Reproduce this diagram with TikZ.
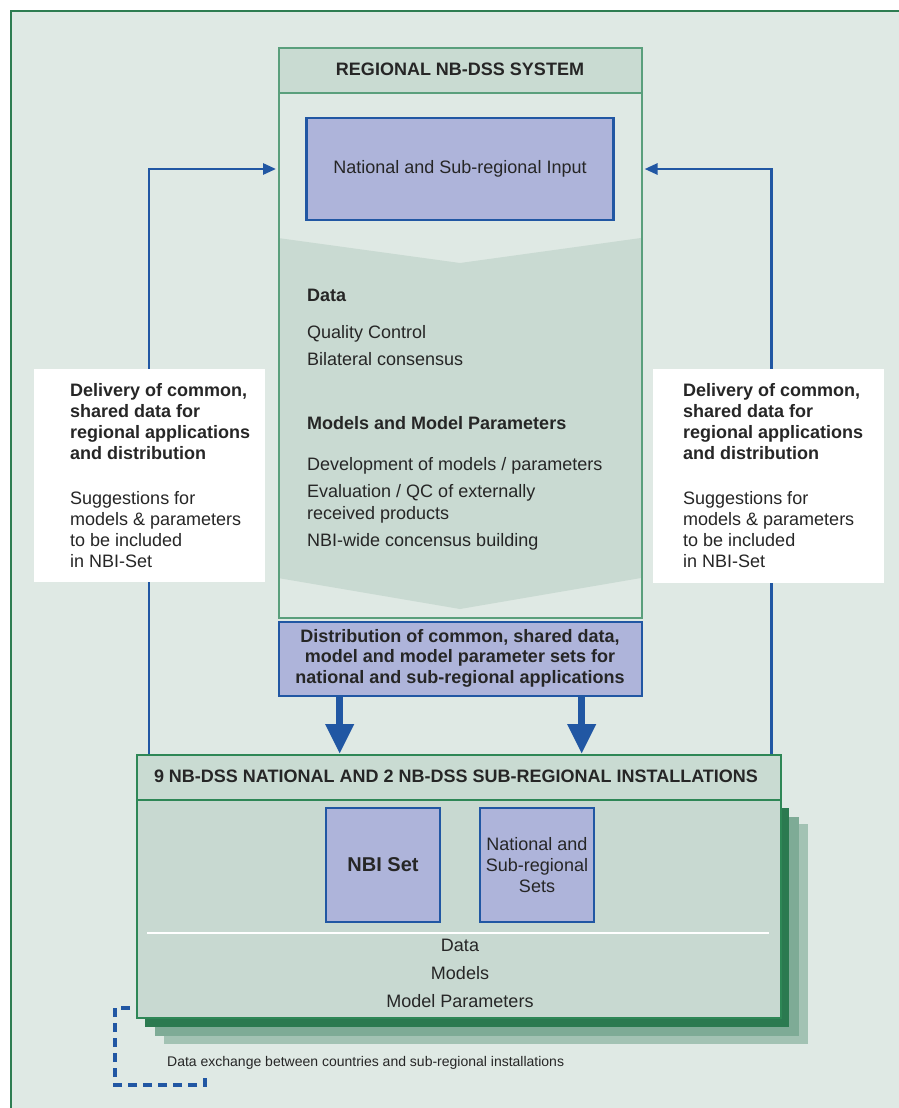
\documentclass[tikz,border=0pt]{standalone}
\usepackage{fontspec}
\setmainfont{Liberation Sans}
\usetikzlibrary{arrows.meta,calc}
\definecolor{bg}{HTML}{DFE9E4}
\definecolor{frameg}{HTML}{2E7D52}
\definecolor{boxg}{HTML}{5A9F7C}
\definecolor{lowg}{HTML}{2E8756}
\definecolor{hdr}{HTML}{C9DBD2}
\definecolor{chev}{HTML}{C9DAD2}
\definecolor{lowf}{HTML}{C8D9D1}
\definecolor{bluef}{HTML}{AEB4DA}
\definecolor{blued}{HTML}{2157A3}
\definecolor{txt}{HTML}{262626}
\definecolor{shA}{HTML}{2B7A50}
\definecolor{shB}{HTML}{7EAB96}
\definecolor{shC}{HTML}{A2C2B3}
\tikzset{
  lbl/.style={inner sep=0pt, text=txt, font=\fontsize{18}{21}\selectfont},
  lblb/.style={lbl, font=\fontsize{18}{21}\selectfont\bfseries},
  bluebox/.style={fill=bluef, draw=blued, line width=2.4pt, inner sep=0pt, text=txt},
  fbline/.style={draw=blued, line width=2.8pt, -{Triangle[length=13pt,width=11pt]}, shorten >=2pt},
  bigarrow/.style={draw=blued, line width=7pt, -{Triangle[length=30pt,width=27pt]}},
  dashline/.style={draw=blued, line width=3.5pt, dash pattern=on 9pt off 6pt},
  whitebox/.style={fill=white, draw=none, inner sep=0pt}
}
\begin{document}
\begin{tikzpicture}[x=1pt,y=-1pt]
\useasboundingbox (0,0) rectangle (899,1108);
% background and frame
\fill[white] (0,0) rectangle (899,1108);
\fill[bg] (11,11) rectangle (899,1108);
\draw[frameg, line width=2.5pt] (11,1108) -- (11,11) -- (899,11);

% ---------- top system ----------
\fill[hdr] (278,47) rectangle (641,93);
\fill[chev] (278,238) -- (460,263) -- (641,238) -- (641,578) -- (460,609) -- (278,578) -- cycle;
\node[draw=boxg, line width=1.6pt, minimum width=363pt, minimum height=570pt, anchor=north west, inner sep=0pt] (sys) at (278,47) {};
\draw[boxg, line width=1.6pt] (sys.north west |- 0,93) -- (sys.north east |- 0,93);
\node[lblb, anchor=base] (systitle) at (460,75) {REGIONAL NB-DSS SYSTEM};
\node[bluebox, minimum width=307pt, minimum height=102pt, font=\fontsize{18}{21}\selectfont] (input) at (460,169) {National and Sub-regional Input};

\node[lblb, anchor=base west] (tdata) at (307,301) {Data};
\node[lbl, anchor=base west] (tqc) at (307,338) {Quality Control};
\node[lbl, anchor=base west] (tbil) at (307,365) {Bilateral consensus};
\node[lblb, anchor=base west] (tmod) at (307,429) {Models and Model Parameters};
\node[lbl, anchor=base west] (tdev) at (307,470) {Development of models / parameters};
\node[lbl, anchor=base west] (teval) at (307,497) {Evaluation / QC of externally};
\node[lbl, anchor=base west] (trec) at (307,519) {received products};
\node[lbl, anchor=base west] (tnbi) at (307,546) {NBI-wide concensus building};

% distribution box
\node[bluebox, minimum width=363pt, minimum height=74pt, anchor=north west] (dist) at (278,621) {};
\node[lbl, align=center, font=\fontsize{18}{20.5}\selectfont\bfseries] (disttext) at (460,658)
  {Distribution of common, shared data,\\model and model parameter sets for\\national and sub-regional applications};

% ---------- bottom installations ----------
\fill[shC] (164,824) rectangle (808,1044);
\fill[shB] (155,817) rectangle (799,1036);
\fill[shA] (145,808) rectangle (789,1027);
\fill[hdr] (136,754) rectangle (780,800);
\fill[lowf] (136,800) rectangle (780,1017);
\node[draw=lowg, line width=2.2pt, minimum width=644pt, minimum height=263pt, anchor=north west, inner sep=0pt] (low) at (136,754) {};
\draw[lowg, line width=2pt] (low.north west |- 0,800) -- (low.north east |- 0,800);
\node[lblb, anchor=base] (lowtitle) at (456,782) {9 NB-DSS NATIONAL AND 2 NB-DSS SUB-REGIONAL INSTALLATIONS};
\node[bluebox, minimum width=114pt, minimum height=114pt, font=\fontsize{20}{24}\selectfont\bfseries] (nbiset) at (383,865) {NBI Set};
\node[bluebox, minimum width=114pt, minimum height=114pt, align=center, font=\fontsize{18}{21}\selectfont] (natsets) at (537,865) {National and\\Sub-regional\\Sets};
\draw[white, line width=2pt] (147,933) -- (769,933);
\node[lbl, anchor=base] (ldata) at (460,951) {Data};
\node[lbl, anchor=base] (lmodels) at (460,979) {Models};
\node[lbl, anchor=base] (lparams) at (460,1007) {Model Parameters};

% big arrows
\draw[bigarrow] ([xshift=-121pt]dist.south) -- ([xshift=-121pt]dist.south |- low.north);
\draw[bigarrow] ([xshift=121pt]dist.south) -- ([xshift=121pt]dist.south |- low.north);

% feedback arrows
\draw[fbline] ([xshift=13pt]low.north west) |- (input.center -| sys.west);
\draw[fbline] ([xshift=-11pt]low.north east) |- (input.center -| sys.east);

% white boxes
\node[whitebox, minimum width=231pt, minimum height=213pt, anchor=north west] (lbox) at (34,369) {};
\node[lbl, anchor=north west, align=left] (ltext) at (70,383)
  {\textbf{Delivery of common,}\\\textbf{shared data for}\\\textbf{regional applications}\\\textbf{and distribution}\\[24pt]Suggestions for\\models \& parameters\\to be included\\in NBI-Set};
\node[whitebox, minimum width=231pt, minimum height=214pt, anchor=north west] (rbox) at (653,369) {};
\node[lbl, anchor=north west, align=left] (rtext) at (683,383)
  {\textbf{Delivery of common,}\\\textbf{shared data for}\\\textbf{regional applications}\\\textbf{and distribution}\\[24pt]Suggestions for\\models \& parameters\\to be included\\in NBI-Set};

% data exchange
\coordinate (dxa) at ([yshift=11pt]low.south west);
\coordinate (dxb) at ($(dxa)+(69,70)$);
\draw[dashline] (dxb) -- ++(0,7) -- ++(-90,0) |- (dxa);
\node[lbl, anchor=base west, font=\fontsize{14}{16}\selectfont] (exch) at (167,1066) {Data exchange between countries and sub-regional installations};
\end{tikzpicture}
\end{document}
